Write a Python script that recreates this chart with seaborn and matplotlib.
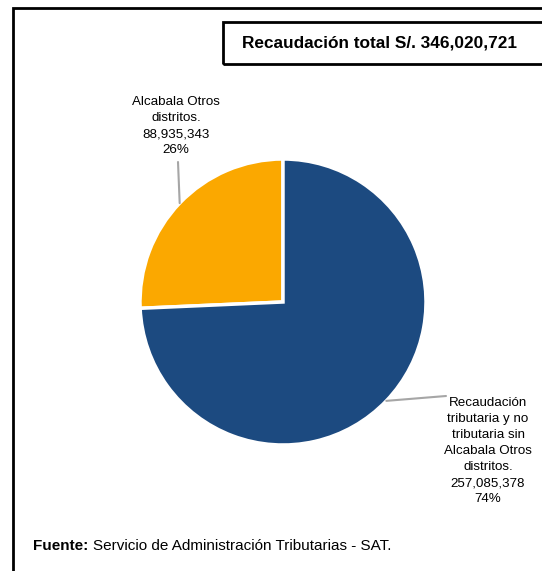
import numpy as np
import seaborn as sns
import matplotlib.pyplot as plt
from matplotlib.patches import Rectangle

# data
categories = ['Alcabala Otros\ndistritos.', 'Recaudación\ntributaria y no\ntributaria sin\nAlcabala Otros\ndistritos.']
values = [88935343, 257085378]
colors = ['#FBA800', '#1C4A80']
total = sum(values)

sns.set_theme(style='white')
plt.rcParams['font.family'] = ['Liberation Sans', 'DejaVu Sans']
plt.rcParams['text.color'] = 'black'

W, H = 542, 571
fig = plt.figure(figsize=(W / 100, H / 100), dpi=100)

def fx(px):
    return px / W

def fy(py):
    return 1 - py / H

# outer frame and title box
fig.patches.append(Rectangle((fx(13), fy(600)), fx(560), 600 / H - 8 / H, transform=fig.transFigure,
                             fill=False, edgecolor='black', linewidth=2))
fig.patches.append(Rectangle((fx(223), fy(64)), fx(340), 42 / H, transform=fig.transFigure,
                             fill=False, edgecolor='black', linewidth=2))
fig.text(fx(380), fy(43), 'Recaudación total S/. {:,}'.format(total), ha='center', va='center',
         fontsize=12.4, fontweight='bold')

# pie
r = 143
cx, cy = 283, 302
ax = fig.add_axes([fx(cx - r), fy(cy + r), 2 * r / W, 2 * r / H])
wedges, _ = ax.pie(values, colors=colors, startangle=90, counterclock=True,
                   wedgeprops=dict(edgecolor='white', linewidth=2.5))
ax.set_aspect('equal')
ax.set_xlim(-1, 1)
ax.set_ylim(-1, 1)
ax.axis('off')

pct = [round(v / total * 100) for v in values]
labels = ['{}\n{:,}\n{}%'.format(c, v, p) for c, v, p in zip(categories, values, pct)]

# orange label
w = wedges[0]
ang = np.deg2rad((w.theta1 + w.theta2) / 2)
ax.annotate('', xy=(np.cos(ang), np.sin(ang)), xytext=(fx(178), fy(162)), textcoords='figure fraction',
            arrowprops=dict(arrowstyle='-', color='#A6A6A6', linewidth=1.5, shrinkA=0, shrinkB=0))
fig.text(fx(176), fy(126), labels[0], ha='center', va='center', fontsize=9.6, linespacing=1.46)

# blue label
w = wedges[1]
ang = np.deg2rad((w.theta1 + w.theta2) / 2)
ax.annotate('', xy=(np.cos(ang), np.sin(ang)), xytext=(fx(446), fy(396)), textcoords='figure fraction',
            arrowprops=dict(arrowstyle='-', color='#A6A6A6', linewidth=1.5, shrinkA=0, shrinkB=0))
fig.text(fx(488), fy(451), labels[1], ha='center', va='center', fontsize=9.6, linespacing=1.46)

# source
fig.text(fx(33), fy(546), 'Fuente:', ha='left', va='center', fontsize=11, fontweight='bold')
fig.text(fx(93), fy(546), 'Servicio de Administración Tributarias - SAT.', ha='left', va='center', fontsize=11)

fig.savefig('out.png', dpi=100)
